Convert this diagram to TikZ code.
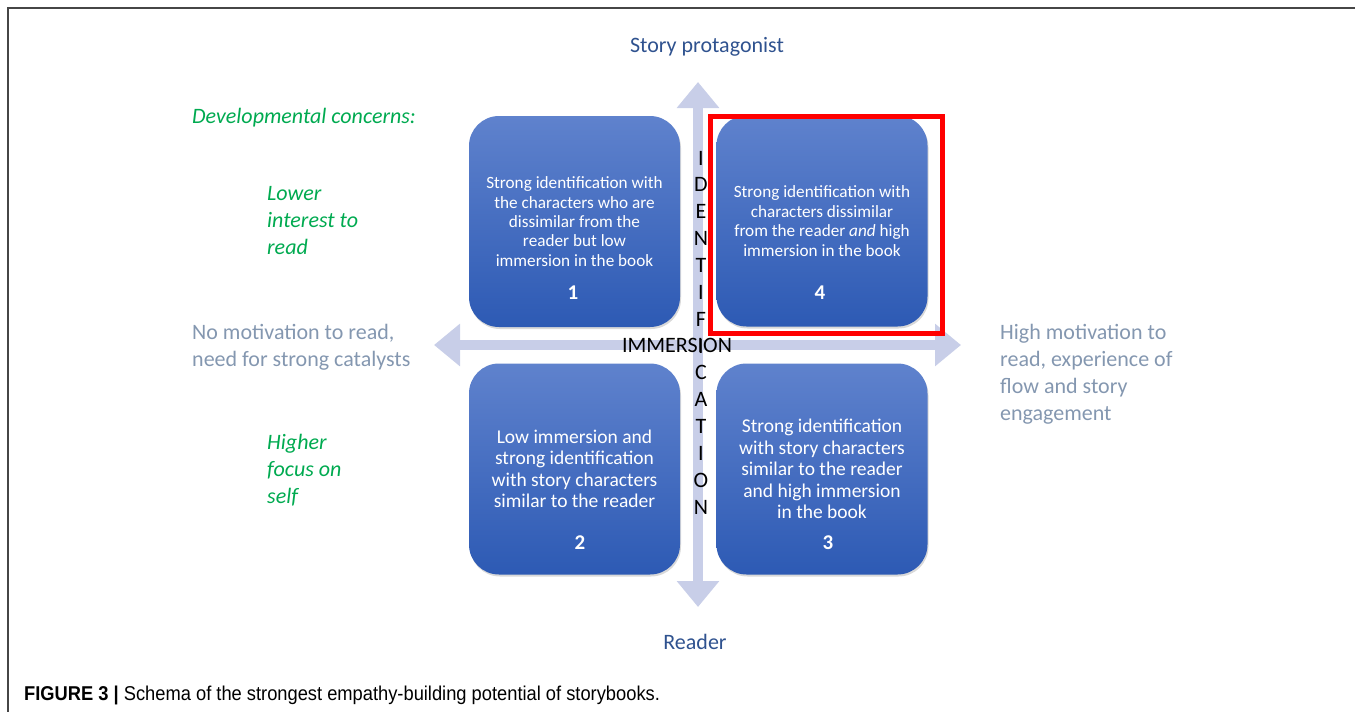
\documentclass[tikz,border=0pt]{standalone}
\usepackage{fontspec}
\setmainfont{Carlito}
\newfontfamily\capfont[FakeStretch=0.915]{Liberation Sans}
\usetikzlibrary{arrows.meta}
\usetikzlibrary{shadows}
\definecolor{hblue}{RGB}{47,82,143}
\definecolor{sgrey}{RGB}{132,151,176}
\definecolor{dgreen}{RGB}{0,170,80}
\definecolor{qtop}{RGB}{95,130,205}
\definecolor{qbot}{RGB}{45,90,180}
\definecolor{axcol}{RGB}{200,206,232}
\definecolor{frcol}{RGB}{70,70,70}
\tikzstyle{quad}=[rounded corners=30pt, minimum width=211pt, minimum height=211pt, inner sep=0pt, top color=qtop, bottom color=qbot, drop shadow={opacity=0.3, shadow xshift=1pt, shadow yshift=-2pt}, text=white, align=center]
\tikzstyle{qsmall}=[quad, font=\fontsize{17.2}{19.4}\selectfont]
\tikzstyle{qlarge}=[quad, font=\fontsize{19.5}{21.5}\selectfont]
\tikzstyle{qnum}=[text=white, font=\fontsize{21}{24}\selectfont\bfseries, inner sep=0pt]
\tikzstyle{axis}=[draw=axcol, line width=10pt, {Triangle[width=41pt, length=26pt]}-{Triangle[width=41pt, length=26pt]}]
\tikzstyle{pole}=[text=hblue, font=\fontsize{22}{27}\selectfont, inner sep=0pt]
\tikzstyle{side}=[text=sgrey, font=\fontsize{22}{27}\selectfont, align=left, anchor=west, inner sep=0pt]
\tikzstyle{dev}=[text=dgreen, font=\fontsize{22}{27}\selectfont\itshape, align=left, anchor=west, inner sep=0pt]
\tikzstyle{vlet}=[font=\fontsize{22}{27}\selectfont, inner sep=0pt]

\begin{document}
\begin{tikzpicture}[x=1pt, y=-1pt]
        \useasboundingbox (0,0) rectangle (1355,712);
        \draw[frcol, line width=2pt] (8,712) -- (8,8) -- (1355,8);
        \coordinate (top) at (698,82);
        \coordinate (bot) at (698,607);
        \coordinate (lft) at (434,345);
        \coordinate (rgt) at (961,345);
        \draw[axis] (lft) -- (rgt);
        \draw[axis] (bot) -- (top);
        \node[qsmall] (Q1) at (574.5,221.5) {Strong identification with\\the characters who are\\dissimilar from the\\reader but low\\immersion in the book};
        \node[qsmall] (Q4) at (822,221) {Strong identification with\\characters dissimilar\\from the reader \textit{and} high\\immersion in the book};
        \node[qlarge] (Q2) at (574.5,469) {Low immersion and\\strong identification\\with story characters\\similar to the reader};
        \node[qlarge] (Q3) at (822,469) {Strong identification\\with story characters\\similar to the reader\\and high immersion\\in the book};
        \node[qnum] (N1) at (573,293) {1};
        \node[qnum] (N4) at (820,293) {4};
        \node[qnum] (N2) at (580,543) {2};
        \node[qnum] (N3) at (828,543) {3};
        \draw[red, line width=5pt] (710.5,116) rectangle (942.5,333.5);
        \foreach \ch [count=\i] in {I,D,E,N,T,I,F,I,C,A,T,I,O,N}
            \node[vlet] (L\i) at (701, {158+(\i-1)*26.85}) {\ch};
        \node[vlet] (imm) at (677,345) {IMMERSION};
        \node[pole] (prot) at (707,47) {Story protagonist};
        \node[pole] (rdr) at (695,642) {Reader};
        \node[dev] (dev) at (192,118) {Developmental concerns:};
        \node[dev] (low) at (267,221) {Lower\\interest to\\read};
        \node[dev] (hig) at (267,470.5) {Higher\\focus on\\self};
        \node[side] (nomot) at (192,347.5) {No motivation to read,\\need for strong catalysts};
        \node[side] (himot) at (1000,374.5) {High motivation to\\read, experience of\\flow and story\\engagement};
        \node[anchor=west, inner sep=0pt, font=\capfont\fontsize{20}{23}\selectfont] (cap) at (24,695) {\textbf{FIGURE 3 |} Schema of the strongest empathy-building potential of storybooks.};
    \end{tikzpicture}
\end{document}
